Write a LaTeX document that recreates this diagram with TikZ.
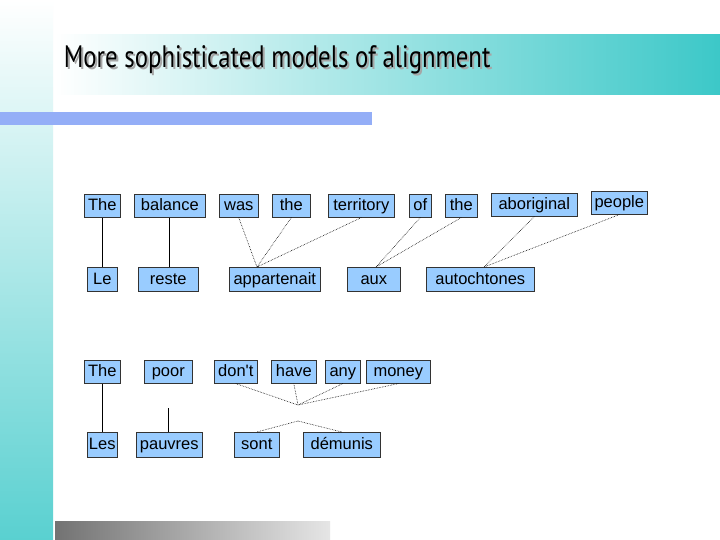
\documentclass[tikz,border=0pt]{standalone}
\usepackage{fontspec}
\setmainfont{Liberation Sans}
\newfontfamily\titlefont{PT Sans}
\newfontfamily\plainfont[Ligatures=ResetAll]{Liberation Sans}
\definecolor{teal1}{RGB}{60,200,200}
\definecolor{boxblue}{RGB}{153,204,255}
\definecolor{barblue}{RGB}{148,174,247}
\begin{document}
\begin{tikzpicture}[x=1pt,y=-1pt,
  wbox/.style={fill=boxblue,draw=black!80,line width=0.6pt,inner sep=0pt,minimum height=23pt,text height=11.5pt,text depth=2pt,font=\fontsize{16.5}{16.5}\selectfont,anchor=north west},
  solid link/.style={line width=0.8pt},
  dot link/.style={densely dotted,line width=0.6pt}]
\useasboundingbox (0,0) rectangle (720,540);
\fill[white] (0,0) rectangle (720,540);
\shade[top color=white,bottom color=teal1!85] (0,0) rectangle (53,540);
\shade[left color=white,right color=teal1] (55,35) rectangle (720,95);
\fill[barblue] (0,112) rectangle (372,125);
\shade[left color=black!55,right color=black!10] (55,521) rectangle (330,540);
\node[anchor=base west,xscale=0.8,font=\titlefont\fontsize{31}{31}\selectfont,text=black!35] at (63,70) {More sophisticated models of alignment};
\node[anchor=base west,xscale=0.8,font=\titlefont\fontsize{31}{31}\selectfont] (title) at (61,68) {More sophisticated models of alignment};
% row 1
\node[wbox,minimum width=36pt] (The1) at (84,194) {The};
\node[wbox,minimum width=71pt] (balance) at (134,194) {balance};
\node[wbox,minimum width=39pt] (was) at (219,194) {was};
\node[wbox,minimum width=38pt] (the1) at (272,194) {the};
\node[wbox,minimum width=66pt] (territory) at (328,194) {territory};
\node[wbox,minimum width=22pt] (of) at (409,194) {of};
\node[wbox,minimum width=32pt] (the2) at (445,194) {the};
\node[wbox,minimum width=86pt] (aboriginal) at (491,193) {aboriginal};
\node[wbox,minimum width=56pt] (people) at (591,191) {people};
% row 2
\node[wbox,minimum width=30pt,minimum height=24pt] (Le) at (87,267) {Le};
\node[wbox,minimum width=60pt,minimum height=24pt] (reste) at (138,267) {reste};
\node[wbox,minimum width=91pt,minimum height=24pt] (appartenait) at (229,267) {appartenait};
\node[wbox,minimum width=53pt,minimum height=24pt] (aux) at (347,267) {aux};
\node[wbox,minimum width=108pt,minimum height=24pt] (autochtones) at (426,267) {autochtones};
\coordinate (appJ) at (257,267);
\coordinate (auxJ) at (376,267);
\coordinate (autJ) at (484,267);
\draw[solid link] (The1.south) -- (Le.north -| The1.south);
\draw[solid link] (balance.south) -- (reste.north -| balance.south);
\draw[dot link] (was.south) -- (appJ);
\draw[dot link] (the1.south) -- (appJ);
\draw[dot link] (territory.south) -- (appJ);
\draw[dot link] (of.south) -- (auxJ);
\draw[dot link] (the2.south) -- (auxJ);
\draw[dot link] (aboriginal.south) -- (autJ);
\draw[dot link] (people.south) -- (autJ);
% row 3
\node[wbox,minimum width=36pt] (The3) at (84,360) {The};
\node[wbox,minimum width=48pt] (poor) at (144,360) {poor};
\node[wbox,minimum width=43pt] (dont) at (214,360) {\plainfont don't};
\node[wbox,minimum width=45pt] (have) at (271,360) {have};
\node[wbox,minimum width=35pt] (any) at (325,360) {any};
\node[wbox,minimum width=64pt] (money) at (366,360) {money};
% row 4
\node[wbox,minimum width=30pt,minimum height=25pt] (Les) at (87,432) {Les};
\node[wbox,minimum width=66pt,minimum height=25pt] (pauvres) at (136,432) {pauvres};
\node[wbox,minimum width=45pt,minimum height=25pt] (sont) at (234,432) {sont};
\node[wbox,minimum width=77pt,minimum height=25pt] (demunis) at (303,432) {démunis};
\coordinate (j1) at (298,405);
\coordinate (j2) at (298,421);
\coordinate (poorEnd) at (168,408);
\draw[solid link] (The3.south) -- (Les.north -| The3.south);
\draw[solid link] (poorEnd) -- (pauvres.north -| poorEnd);
\draw[dot link] (dont.south) -- (j1);
\draw[dot link] (have.south) -- (j1);
\draw[dot link] (any.south) -- (j1);
\draw[dot link] (money.south) -- (j1);
\draw[dot link] (j2) -- (sont.north);
\draw[dot link] (j2) -- (demunis.north);
\end{tikzpicture}
\end{document}
